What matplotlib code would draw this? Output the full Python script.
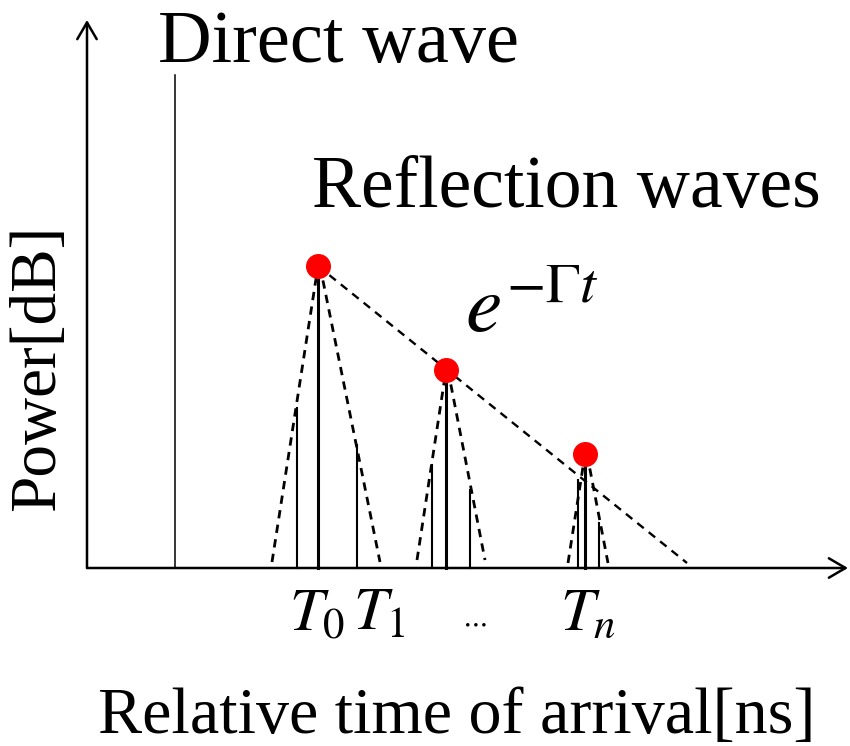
import matplotlib.pyplot as plt

plt.rcParams['font.family'] = ['Liberation Serif', 'DejaVu Serif']
plt.rcParams['mathtext.fontset'] = 'stix'

# time / power in arbitrary units (origin at the axes corner)
direct_time = 88
direct_power = 493

peak_times = [231, 359, 498]
peak_powers = [302, 198, 114]

left_times = [210, 345, 491]
left_powers = [160, 103, 88]
right_times = [270, 383, 512]
right_powers = [123, 78, 45]

# feet of the dashed envelopes around each cluster
env_left_times = [185, 330, 481]
env_right_times = [293, 398, 521]
env_foot_powers = [6, 8, 5]

decay_end_time = 600
decay_end_power = 5

tick_labels = [r'$T_0$', r'$T_1$', r'$\cdots$', r'$T_n$']
tick_times = [230, 292, 387, 501]


def main():
    fig = plt.figure(figsize=(8.5, 7.46), dpi=100)
    ax = fig.add_axes([0, 0, 1, 1])
    ax.set_xlim(-87, 763)
    ax.set_ylim(-178, 568)
    ax.axis('off')

    arrow = dict(arrowstyle='->,head_length=0.6,head_width=0.35',
                 color='black', lw=1.8, mutation_scale=20,
                 shrinkA=0, shrinkB=0)
    ax.annotate('', xy=(761, 0), xytext=(0, 0), arrowprops=arrow)
    ax.annotate('', xy=(0, 548), xytext=(0, 0), arrowprops=arrow)

    ax.plot([direct_time, direct_time], [0, direct_power], color='black', lw=1.1)

    dash = dict(color='black', lw=2.0, dashes=(3, 2.3))
    for i in range(len(peak_times)):
        t, p = peak_times[i], peak_powers[i]
        ax.plot([t, t], [0, p], color='black', lw=2.2)
        ax.plot([left_times[i]] * 2, [0, left_powers[i]], color='black', lw=1.5)
        ax.plot([right_times[i]] * 2, [0, right_powers[i]], color='black', lw=1.5)
        ax.plot([env_left_times[i], t], [env_foot_powers[i], p], **dash)
        ax.plot([t + 2, env_right_times[i]], [p, env_foot_powers[i]], **dash)

    ax.plot([peak_times[0], decay_end_time], [peak_powers[0], decay_end_power],
            color='black', lw=1.7, dashes=(3.5, 2.7))

    ax.plot(peak_times, peak_powers, 'o', color='red', markersize=17, zorder=5)

    ax.text(71, 506, 'Direct wave', fontsize=53.5, ha='left', va='baseline')
    ax.text(225, 361, 'Reflection waves', fontsize=53, ha='left', va='baseline')
    ax.text(-49, 200, 'Power[dB]', fontsize=47, rotation=90,
            ha='center', va='center')
    ax.text(370, -165, 'Relative time of arrival[ns]', fontsize=47.5,
            ha='center', va='baseline')
    ax.text(378, 236, r'$e^{-\Gamma t}$', fontsize=59, ha='left', va='baseline')

    for label, t in zip(tick_labels, tick_times):
        size = 20 if label == r'$\cdots$' else 44
        ax.text(t, -62, label, fontsize=size, ha='center', va='baseline')

    fig.savefig('out.png', dpi=100)


main()
